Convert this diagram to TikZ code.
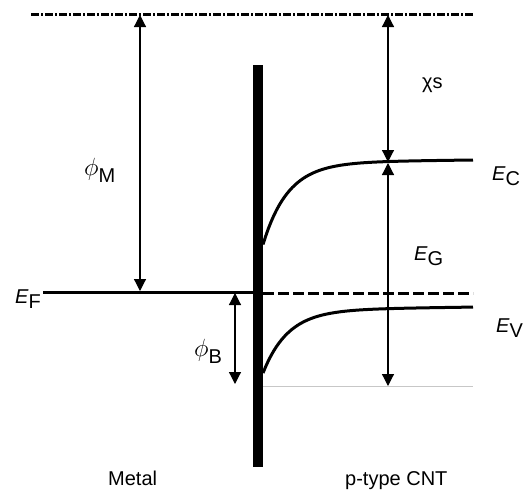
\documentclass[tikz,border=0pt]{standalone}
\usepackage{fontspec}
\setmainfont{Liberation Sans}
\usetikzlibrary{arrows.meta,positioning}
\newcommand{\sublbl}[2]{#1\raisebox{-5pt}{#2}}
\newcommand{\philbl}[1]{{\fontsize{24}{28}\selectfont$\phi$}\raisebox{-7pt}{#1}}
\tikzset{
  every node/.style={font=\fontsize{20}{24}\selectfont,inner sep=0pt},
  band/.style={line width=3pt},
  vacuum/.style={line width=3pt,dash pattern=on 8pt off 2pt on 2pt off 2pt},
  fermi/.style={band,dash pattern=on 11pt off 4pt},
  refline/.style={line width=1pt,draw=black!22},
  barrier/.style={fill=black},
  gap/.style={{Triangle[length=12pt,width=12pt]}-{Triangle[length=12pt,width=12pt]},line width=1.2pt},
  lbl/.style={anchor=base west}
}
\begin{document}
\begin{tikzpicture}[x=1pt,y=-1pt]
\useasboundingbox (0,0) rectangle (523,491);
% levels
\coordinate (vacS) at (31,14.5);
\coordinate (vacE) at (473,14.5);
\coordinate (efS) at (43,292);
\coordinate (efE) at (253,292);
\coordinate (fdS) at (263,293);
\coordinate (fdE) at (473,293);
\coordinate (refS) at (263,386);
\coordinate (refE) at (473,386);
\draw[vacuum] (vacS) -- (vacE);
\draw[band] (efS) -- (efE);
\draw[fermi] (fdS) -- (fdE);
\draw[refline] (refS) -- (refE);
\fill[barrier] (253,65) rectangle (263,467);
\draw[band] plot[domain=263:473,samples=80] (\x,{162.5-0.012*(\x-263)+82*exp(-(\x-263)/25)});
\draw[band] plot[domain=263:473,samples=80] (\x,{310-0.014*(\x-263)+63*exp(-(\x-263)/25)});
% arrows
\coordinate (phiMtop) at (140,15);
\coordinate (phiMbot) at (140,291);
\coordinate (chiTop) at (388,15);
\coordinate (chiBot) at (388,162);
\coordinate (egTop) at (388,163);
\coordinate (egBot) at (388,386);
\coordinate (phiBtop) at (235,293);
\coordinate (phiBbot) at (235,384);
\draw[gap] (phiMtop) -- (phiMbot);
\draw[gap] (chiTop) -- (chiBot);
\draw[gap] (egTop) -- (egBot);
\draw[gap] (phiBtop) -- (phiBbot);
% labels
\node[lbl] (chis) at (422,88) {χs};
\node[lbl] (phiM) at (84,175) {\philbl{M}};
\node[lbl] (phiB) at (194,356) {\philbl{B}};
\node[lbl] (ef) at (15,303) {\sublbl{\textit{E}}{F}};
\node[lbl] (ec) at (492,180) {\sublbl{\textit{E}}{C}};
\node[lbl] (eg) at (414,260) {\sublbl{\textit{E}}{G}};
\node[lbl] (ev) at (496,332) {\sublbl{\textit{E}}{V}};
\node[lbl] (metal) at (108,485) {Metal};
\node[lbl] (cnt) at (345,485) {p-type CNT};
\end{tikzpicture}
\end{document}
